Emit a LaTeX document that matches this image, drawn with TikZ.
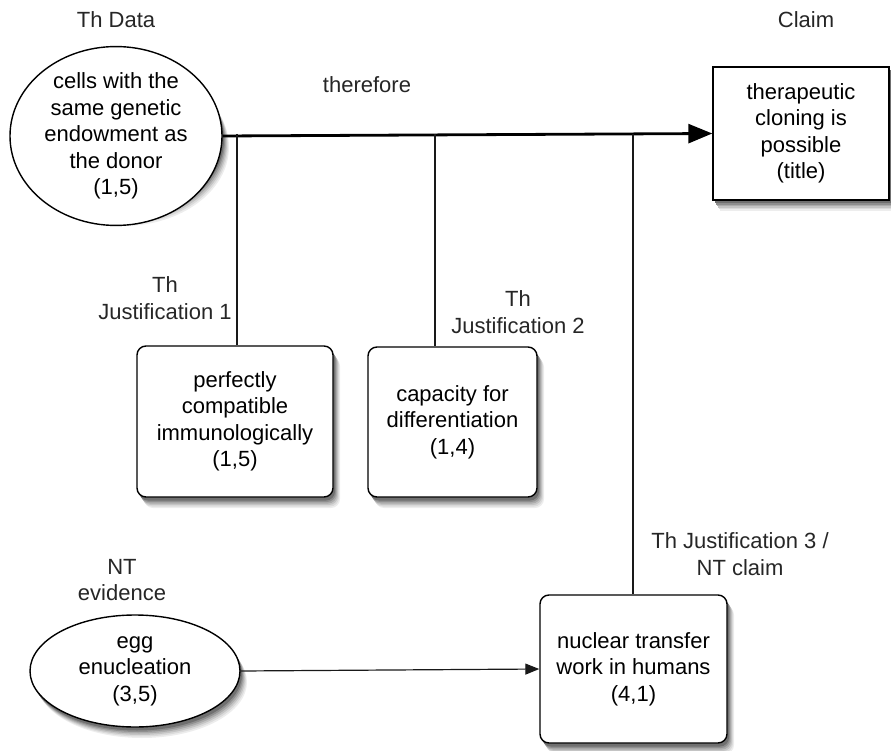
\documentclass[tikz,border=0pt]{standalone}
\usepackage{fontspec}
\setmainfont{Liberation Sans}
\usetikzlibrary{shapes.geometric,arrows.meta}
\begin{document}
\begin{tikzpicture}[x=1pt,y=-1pt,
  every node/.style={font=\fontsize{22}{26.5}\selectfont, align=center, inner sep=0pt},
  ellnode/.style={ellipse, draw=black, line width=1.4pt, fill=white},
  sqbox/.style={rectangle, draw=black, line width=1.4pt, fill=white},
  rbox/.style={rectangle, rounded corners=9pt, draw=black, line width=1.4pt, fill=white},
  shd/.style={fill=black!#1, draw=none},
  lbl/.style={text=black!85},
  link/.style={draw=black!90, line width=1.2pt}
]
\useasboundingbox (0,0) rectangle (891,751);

% soft shadows, drawn first (offset copies of each shape)
\foreach \dx/\dy/\g in {7/11/7, 6/9.5/14, 5/8/23, 4/6.5/33, 3/5/44, 2/3.5/56} {
  \path[shd=\g] (713+\dx,67+\dy) rectangle (889+\dx,200+\dy);
  \path[shd=\g, rounded corners=9pt] (137+\dx,346+\dy) rectangle (333+\dx,497+\dy);
  \path[shd=\g, rounded corners=9pt] (368+\dx,347+\dy) rectangle (537+\dx,497+\dy);
  \path[shd=\g, rounded corners=9pt] (540+\dx,595+\dy) rectangle (727+\dx,743+\dy);
  \path[shd=\g] (116+\dx,136+\dy) ellipse [x radius=106, y radius=79];
  \path[shd=\g] (135+\dx,671+\dy) ellipse [x radius=105, y radius=56];
}

\node[lbl] (thdata) at (116,20) {Th Data};
\node[lbl] (claimlbl) at (806,20) {Claim};

\node[ellnode, minimum width=212pt, minimum height=158pt] (data) at (116,136)
  {cells with the\\same genetic\\endowment as\\the donor\\(1,5)};
\node[sqbox, minimum width=176pt, minimum height=133pt] (claim) at (801,133.5)
  {therapeutic\\cloning is\\possible\\(title)};

\node[rbox, minimum width=196pt, minimum height=151pt] (b1) at (235,421.5)
  {perfectly\\compatible\\immunologically\\(1,5)};
\node[rbox, minimum width=169pt, minimum height=150pt] (b2) at (452.5,422)
  {capacity for\\differentiation\\(1,4)};
\node[rbox, minimum width=187pt, minimum height=148pt] (b3) at (633.5,669)
  {nuclear transfer\\work in humans\\(4,1)};
\node[ellnode, minimum width=210pt, minimum height=112pt] (egg) at (135,671)
  {egg\\enucleation\\(3,5)};

\node[lbl] (therefore) at (367,85) {therefore};
\node[lbl] (jl1) at (165,298) {Th\\Justification 1};
\node[lbl] (jl2) at (518,312) {Th\\Justification 2};
\node[lbl] (ntev) at (122,580) {NT\\evidence};
\node[lbl] (jl3) at (740,554) {Th Justification 3 /\\NT claim};

\draw[line width=2.8pt, -{Triangle[length=24pt,width=19pt]}] (data.east) -- (claim.west);
\coordinate (j1) at (237,134);
\coordinate (j2) at (435,134);
\coordinate (j3) at (633,134);
\draw[link] (j1) -- (j1 |- b1.north);
\draw[link] (j2) -- (j2 |- b2.north);
\draw[link] (j3) -- (j3 |- b3.north);
\draw[link, -{Triangle[length=14pt,width=11pt]}] (egg.east) -- (b3.west);
\end{tikzpicture}
\end{document}
